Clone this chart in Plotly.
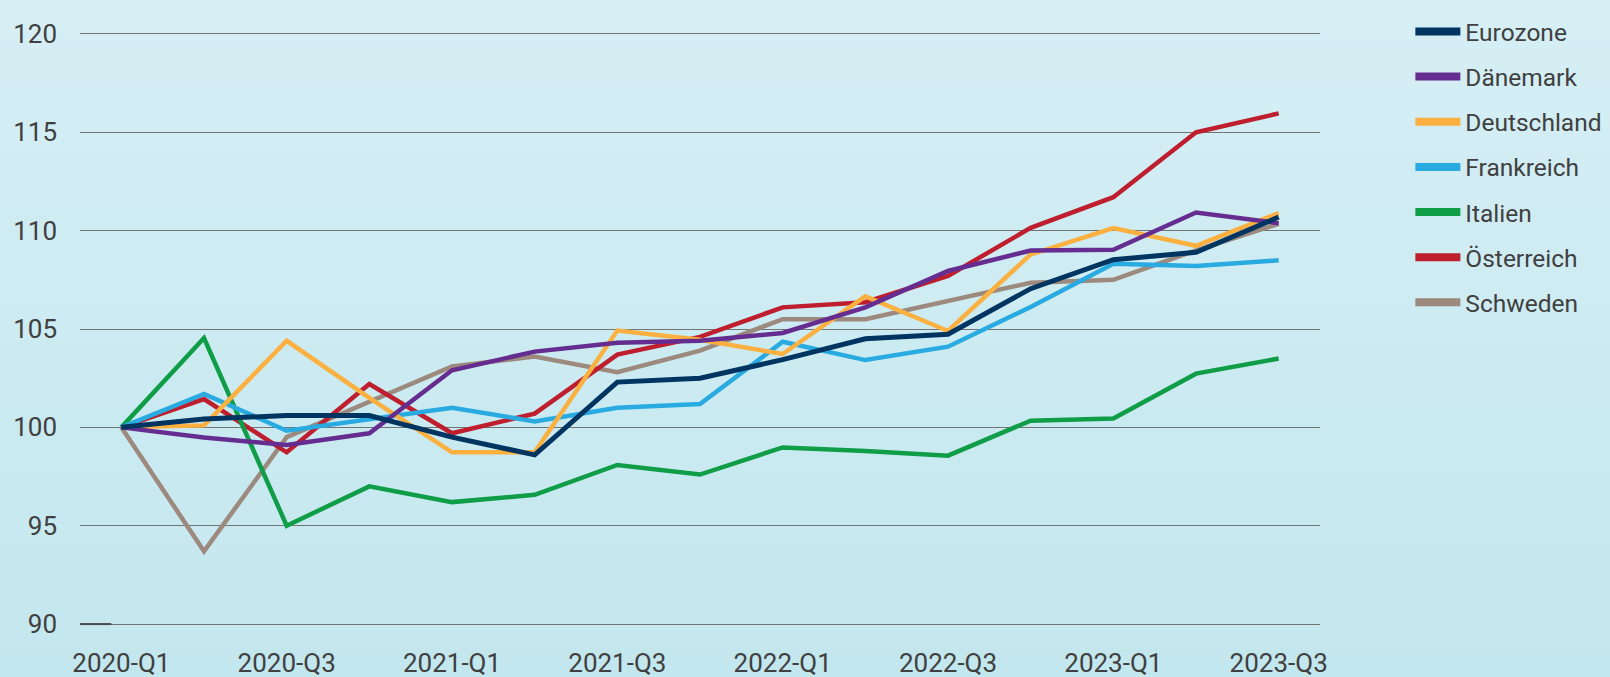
import plotly.graph_objects as go

quarters = ["2020-Q1", "2020-Q2", "2020-Q3", "2020-Q4",
            "2021-Q1", "2021-Q2", "2021-Q3", "2021-Q4",
            "2022-Q1", "2022-Q2", "2022-Q3", "2022-Q4",
            "2023-Q1", "2023-Q2", "2023-Q3"]
tick_labels = quarters[::2]
y_ticks = [90, 95, 100, 105, 110, 115, 120]

eurozone = [100, 100.42, 100.6, 100.6, 99.5, 98.6, 102.3, 102.5, 103.44, 104.5, 104.73, 107.05, 108.52, 108.9, 110.69]
daenemark = [100, 99.49, 99.1, 99.7, 102.9, 103.85, 104.3, 104.4, 104.8, 106.1, 107.95, 108.99, 109.03, 110.92, 110.38]
deutschland = [100, 100.1, 104.4, 101.5, 98.73, 98.73, 104.92, 104.45, 103.73, 106.66, 104.9, 108.79, 110.13, 109.23, 110.89]
frankreich = [100, 101.7, 99.83, 100.42, 101.0, 100.3, 101.0, 101.19, 104.35, 103.42, 104.1, 106.12, 108.32, 108.2, 108.49]
italien = [100, 104.54, 95.0, 97.0, 96.2, 96.57, 98.09, 97.6, 98.98, 98.8, 98.56, 100.34, 100.45, 102.73, 103.5]
oesterreich = [100, 101.44, 98.73, 102.2, 99.7, 100.7, 103.7, 104.6, 106.1, 106.36, 107.7, 110.14, 111.7, 115.0, 115.96]
schweden = [100, 93.7, 99.5, 101.3, 103.1, 103.6, 102.8, 103.9, 105.5, 105.5, 106.45, 107.35, 107.5, 109.0, 110.35]

series_names = ["Eurozone", "Dänemark", "Deutschland", "Frankreich", "Italien", "Österreich", "Schweden"]
series_values = [eurozone, daenemark, deutschland, frankreich, italien, oesterreich, schweden]
series_colors = ["#003562", "#662D91", "#FBB040", "#29ABE2", "#0F9D48", "#BE1E2D", "#9C8A7E"]
series_widths = [5, 4.5, 4.5, 4.5, 4.5, 4.5, 4.5]

W, H = 1610, 677
ML, MR, MT, MB = 80, 290, 30, 49
TEXT = "#404040"
FONT = "Roboto, Arial, sans-serif"

fig = go.Figure()

# draw lines (reverse so Eurozone is on top)
for name, vals, col, w in reversed(list(zip(series_names, series_values, series_colors, series_widths))):
    fig.add_trace(go.Scatter(x=quarters, y=vals, mode="lines", name=name,
                             line=dict(color=col, width=w), showlegend=False,
                             hoverinfo="x+y+name"))

# legend-only entries with thick swatches
for i, (name, col) in enumerate(zip(series_names, series_colors)):
    fig.add_trace(go.Scatter(x=[None], y=[None], mode="lines", name=name,
                             line=dict(color=col, width=8), legendgroup=f"g{i}",
                             showlegend=True))

# gradient background
ph = H - MT - MB
pw = W - ML - MR
y0p = -MB / ph
y1p = 1 + MT / ph
n = 40
top = (0xD6, 0xEF, 0xF5)
bot = (0xC3, 0xE7, 0xEE)
shapes = []
for k in range(n):
    t = (k + 0.5) / n
    c = tuple(round(bot[j] + (top[j] - bot[j]) * t) for j in range(3))
    shapes.append(dict(type="rect", xref="paper", yref="paper",
                       x0=-ML / pw - 0.01, x1=(W - ML) / pw + 0.01,
                       y0=y0p + (y1p - y0p) * k / n - 0.002 - (0.01 if k == 0 else 0),
                       y1=y0p + (y1p - y0p) * (k + 1) / n + 0.002 + (0.01 if k == n - 1 else 0),
                       fillcolor="rgb(%d,%d,%d)" % c, line=dict(width=0), layer="below"))
# short dark segment at start of baseline
shapes.append(dict(type="line", xref="x", yref="y", x0=-0.5, x1=-0.12, y0=90, y1=90,
                   line=dict(color="#4a4a4a", width=2), layer="above"))

fig.update_layout(
    width=W, height=H,
    margin=dict(l=ML, r=MR, t=MT, b=MB, pad=0, autoexpand=False),
    paper_bgcolor="#CBEAF0",
    plot_bgcolor="rgba(0,0,0,0)",
    font=dict(family=FONT, color=TEXT, size=26),
    shapes=shapes,
    showlegend=True,
    legend=dict(xref="container", yref="container", x=0.876, xanchor="left",
                y=0.9867, yanchor="top",
                font=dict(family=FONT, size=24.5, color=TEXT),
                bgcolor="rgba(0,0,0,0)", itemwidth=45, tracegroupgap=10.3,
                traceorder="grouped"),
    xaxis=dict(type="category", categoryorder="array", categoryarray=quarters,
               range=[-0.5, 14.5], tickmode="array", tickvals=tick_labels,
               ticktext=tick_labels, showgrid=False, zeroline=False,
               showline=False, ticks="", tickfont=dict(size=26, color=TEXT),
               ticklabelstandoff=17),
    yaxis=dict(range=[89.8, 120.2], tickmode="array", tickvals=y_ticks,
               showgrid=True, gridcolor="#737373", gridwidth=1, zeroline=False,
               showline=False, ticks="", tickfont=dict(size=26, color=TEXT),
               ticklabelstandoff=22),
)

fig.write_html(
    "out.html",
    config={"displayModeBar": False},
    post_script="document.body.style.margin='0';document.body.style.overflow='hidden';",
)
